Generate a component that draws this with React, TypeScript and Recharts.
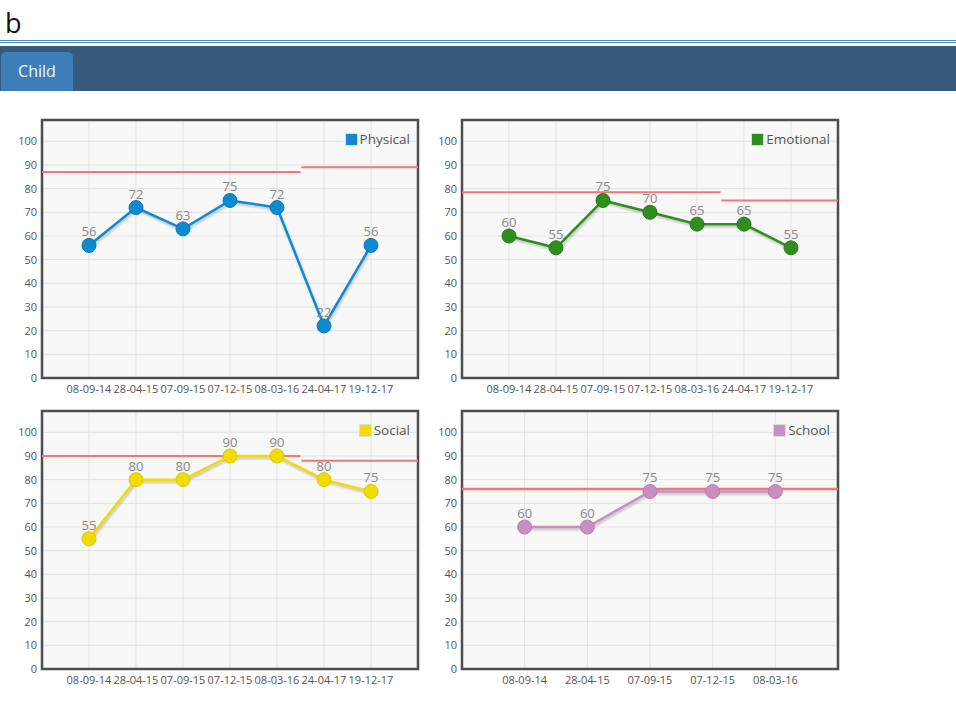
import React from 'react'
import {
  LineChart,
  Line,
  XAxis,
  YAxis,
  CartesianGrid,
  ReferenceLine,
  ReferenceArea,
  LabelList,
} from 'recharts'

// dates (dd-mm-yy) per domain
const fullDates = ['08-09-14', '28-04-15', '07-09-15', '07-12-15', '08-03-16', '24-04-17', '19-12-17']
const schoolDates = ['08-09-14', '28-04-15', '07-09-15', '07-12-15', '08-03-16']

// scores
const physicalScores = [56, 72, 63, 75, 72, 22, 56]
const emotionalScores = [60, 55, 75, 70, 65, 65, 55]
const socialScores = [55, 80, 80, 90, 90, 80, 75]
const schoolScores = [60, 60, 75, 75, 75]

// norm (red) lines: value before / after the change, and how many dates use the first one
const physicalNorms = [87, 89]
const emotionalNorms = [78.5, 75]
const socialNorms = [90, 88]
const schoolNorms = [76]
const normChangeAfter = 5

const yTicks = [0, 10, 20, 30, 40, 50, 60, 70, 80, 90, 100]
const Y_MAX = 109

const FONT = '"Open Sans", "Noto Sans", sans-serif'

interface PanelProps {
  left: number
  top: number
  name: string
  color: string
  dotStroke: string
  dates: string[]
  scores: number[]
  norms: number[]
}

function ScorePanel({ left, top, name, color, dotStroke, dates, scores, norms }: PanelProps) {
  const data = dates.map((d, i) => ({ x: i + 1, label: d, value: scores[i] }))
  const xMax = dates.length + 1
  const split = normChangeAfter + 0.5

  return (
    <div style={{ position: 'absolute', left, top, width: 430, height: 300 }}>
      <LineChart width={430} height={300} data={data} margin={{ top: 10, right: 12, left: 0, bottom: 0 }}>
        <CartesianGrid stroke="#e3e3e3" fill="#f8f8f8" />
        <XAxis
          dataKey="x"
          type="number"
          domain={[0, xMax]}
          ticks={data.map((d) => d.x)}
          tickFormatter={(v: number) => dates[v - 1] ?? ''}
          interval={0}
          height={32}
          axisLine={false}
          tickLine={false}
          tickSize={0}
          tickMargin={7}
          tick={{ fontSize: 11, fill: '#555', fontFamily: FONT }}
        />
        <YAxis
          type="number"
          domain={[0, Y_MAX]}
          ticks={yTicks}
          width={42}
          axisLine={false}
          tickLine={false}
          tickSize={0}
          tickMargin={5}
          allowDataOverflow
          tick={{ fontSize: 11, fill: '#555', fontFamily: FONT }}
        />
        {norms.length > 1 ? (
          <>
            <ReferenceLine
              segment={[{ x: 0, y: norms[0] }, { x: split, y: norms[0] }]}
              stroke="#f47676"
              strokeWidth={2}
            />
            <ReferenceLine
              segment={[{ x: split + 0.02, y: norms[1] }, { x: xMax, y: norms[1] }]}
              stroke="#f47676"
              strokeWidth={2}
            />
          </>
        ) : (
          <ReferenceLine y={norms[0]} stroke="#f47676" strokeWidth={2.5} />
        )}
        <Line
          className="shadowed"
          dataKey="value"
          stroke={color}
          strokeWidth={2.5}
          dot={{ r: 7, fill: color, stroke: dotStroke, strokeWidth: 1 }}
          activeDot={false}
          isAnimationActive={false}
        >
          <LabelList dataKey="value" position="top" offset={9} fill="#888" fontSize={13} fontFamily={FONT} />
        </Line>
        <ReferenceArea x1={0} x2={xMax} y1={0} y2={Y_MAX} fill="none" stroke="#4d4d4d" strokeWidth={2.5} ifOverflow="visible" />
      </LineChart>
      <div
        style={{
          position: 'absolute',
          right: 20,
          top: 20,
          display: 'flex',
          alignItems: 'center',
          fontFamily: FONT,
          fontSize: 13.5,
          color: '#555',
        }}
      >
        <span
          style={{
            display: 'inline-block',
            width: 11,
            height: 11,
            background: color,
            border: '1px solid #ddd',
            marginRight: 2,
          }}
        />
        {name}
      </div>
    </div>
  )
}

export default function App() {
  return (
    <div style={{ position: 'absolute', left: 0, top: 0, width: 956, height: 706, background: '#fff', fontFamily: FONT, overflow: 'hidden' }}>
      <style>{`.shadowed .recharts-line-curve, .shadowed .recharts-line-dot { filter: drop-shadow(1px 2px 1px rgba(0,0,0,0.22)); }`}</style>
      <div style={{ position: 'absolute', left: 5, top: 4, fontSize: 27, color: '#111' }}>b</div>
      <div style={{ position: 'absolute', left: 0, top: 40, width: 956, height: 1, background: '#4f8ac4' }} />
      <div style={{ position: 'absolute', left: 0, top: 42, width: 956, height: 1, background: '#4f8ac4' }} />
      <div style={{ position: 'absolute', left: 0, top: 46, width: 956, height: 45, background: '#365a7c' }} />
      <div
        style={{
          position: 'absolute',
          left: 1,
          top: 52,
          width: 72,
          height: 39,
          background: '#3d7db8',
          borderRadius: '5px 5px 0 0',
          color: '#f4f8fc',
          fontSize: 16,
          lineHeight: '39px',
          textAlign: 'center',
        }}
      >
        Child
      </div>

      <ScorePanel left={0} top={110} name="Physical" color="#0d8ad2" dotStroke="#0a78b8" dates={fullDates} scores={physicalScores} norms={physicalNorms} />
      <ScorePanel left={420} top={110} name="Emotional" color="#2f8e1e" dotStroke="#277a18" dates={fullDates} scores={emotionalScores} norms={emotionalNorms} />
      <ScorePanel left={0} top={401} name="Social" color="#f2dc00" dotStroke="#dcc800" dates={fullDates} scores={socialScores} norms={socialNorms} />
      <ScorePanel left={420} top={401} name="School" color="#c98fc2" dotStroke="#b87cb1" dates={schoolDates} scores={schoolScores} norms={schoolNorms} />
    </div>
  )
}
